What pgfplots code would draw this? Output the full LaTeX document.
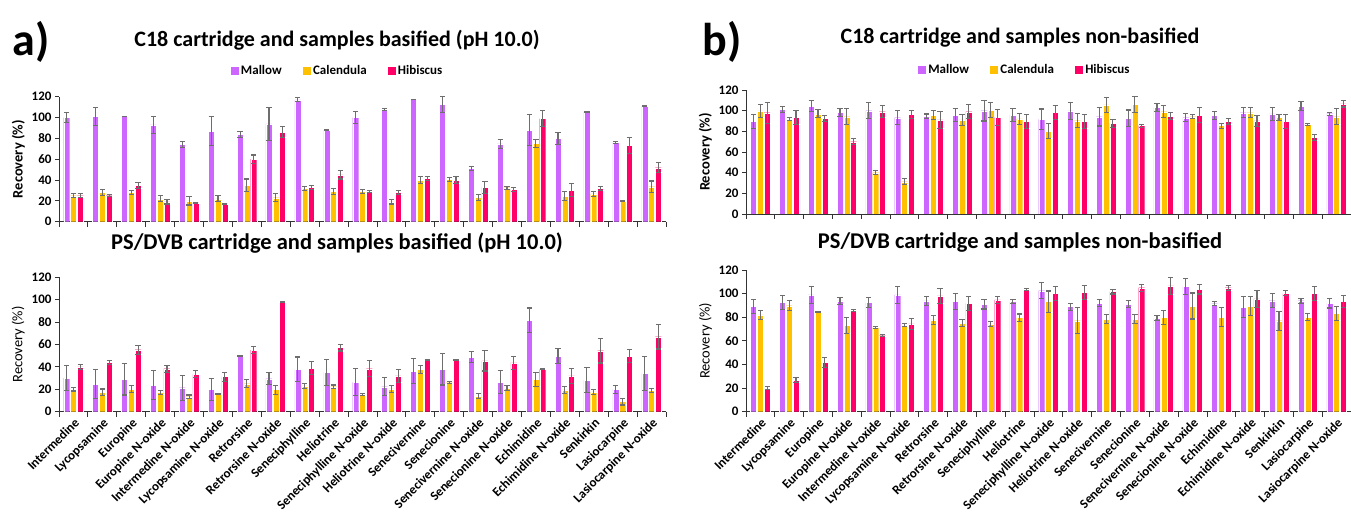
\documentclass[border=0pt]{standalone}
\usepackage{fontspec}
\setmainfont{Carlito}
\usepackage{pgfplots}
\usepackage{pgfplotstable}
\pgfplotsset{compat=1.18}
\definecolor{mallow}{HTML}{CC66FF}
\definecolor{calend}{HTML}{FFC000}
\definecolor{hibis}{HTML}{FF0066}
\definecolor{errgray}{HTML}{6E6E6E}

% columns: category, Mallow, err, Calendula, err, Hibiscus, err
\pgfplotstableread{
x M Me C Ce H He
1 100 5 25 2 25 2
2 101 9 28 3 25 1
3 101 0.4 28 2 35 3
4 93 8 22 3 19 2
5 74 3 20 4 18 0.5
6 87 14 22 3 17 0.5
7 84 3 35 6 60 4
8 94 16 23 4 86 5
9 117 2 32 2 33 2
10 88 0.4 29 3 45 4
11 100 6 29 2 29 1
12 108 1 19 2 28 2
13 117.4 0.3 40 3 41.6 2
14 112.6 8 40.6 2 40 3
15 51 2 23.4 3 33 6
16 74.6 4.5 32.6 1.5 31 2
17 88 15 75 4 99 7.5
18 80 6 24.6 4.5 30.4 6
19 105.6 0.3 26.6 2 32 2
20 76 1 19.5 0.5 73.3 7.5
21 111 0.3 33.6 5.5 51.8 5
}\tAa
\pgfplotstableread{
x M Me C Ce H He
1 30 11 20 1.5 40 2
2 24.7 13 17.3 3 44 1.5
3 28.9 14 20 3 55.4 4
4 23.8 13 17.3 2 38.4 3
5 21.4 11 13.4 1.5 33.4 3
6 20 10 16 0.5 31.3 4
7 50 0.3 25 3.5 55 3
8 29.5 5.5 19.7 4 97.7 0.3
9 37.8 11 23 2.5 39 6
10 35 12 22.3 1.5 57.2 3
11 26.2 12 15.5 1 38.4 7
12 22.3 8 20.3 3 31.9 6
13 36.3 11 37.8 3.5 46.5 0.3
14 37.8 14 25.9 1 46.5 0.3
15 48.8 5 14 2 45.3 9
16 26.5 10 21.1 2 43.5 6
17 81.6 11 28.9 6 37.8 0.3
18 49.7 7 19.4 3 31.9 7
19 28.3 11 17.6 2 54.5 11
20 20 3.5 9 3 49.7 6
21 34.2 15 18.8 2 67 11
}\tAb
\pgfplotstableread{
x M Me C Ce H He
1 89.7 7 99.7 6 98 10
2 101 3 91.9 1.5 93.5 7
3 104.5 5 97 4 92.6 3
4 98.4 4 94.2 8 70 3
5 100 8 40 2 99 6
6 93.2 7 31.3 3 96.5 4
7 94.8 2 95.8 4 91 8
8 95.8 6 91 5 99 7
9 100 10 100.6 7 93.5 8
10 95.8 6 92 5 89.4 7
11 91.6 10 80.3 7 98.4 7
12 99.7 8 90.3 7 89.4 7
13 94.2 9 105.5 7 87.7 4
14 92.6 8 106 8 85.5 1.5
15 103.2 4 99 6 94.8 3
16 93.2 4 94.2 2 95.8 7
17 95.2 4 85.5 2.5 89.4 3
18 98 5 98 5 90 5
19 96.8 6 93.5 3 89.4 7
20 104.5 4 86.8 1 74.2 3
21 97.1 1.5 94.2 8 106.5 3
}\tBa
\pgfplotstableread{
x M Me C Ce H He
1 89 6 82 4 20 1
2 92.7 6 89.8 4 26.8 2
3 98.9 7 84.7 0.5 41.8 4
4 93.8 3 72.9 7 85.6 1
5 92.4 4 71.5 1 64.4 1
6 98.9 7 73.4 1 74.3 5
7 93.8 4 77.7 4 98 6
8 93.2 7 74.9 3 91.8 6
9 91 4 74.3 2 94.6 3
10 93.2 1.5 79.7 3 103.4 1
11 102.5 7 93.2 9 100.3 6
12 89 3 77.1 11 101.1 6
13 91.8 3 78.5 4 101.7 2
14 91.2 3 78.5 4 105 3
15 79.1 2 79.7 6 106.5 7
16 105.9 7 89.5 11 103.7 4
17 91.5 1.5 79.9 8 105 2
18 88.4 9 89.5 8 95.5 7
19 94 6 77.1 8 100.3 2
20 94 2 79.9 3 100.3 6
21 91.8 4 83.3 6 93.2 5
}\tBb

\pgfplotsset{
  ser/.style={fill=#1, draw=white, line width=0.3pt,
    error bars/.cd, y dir=both, y explicit,
    error bar style={errgray, line width=1.1pt},
    error mark options={rotate=90, errgray, mark size=2.6pt, line width=1.1pt}},
  recov/.style={
    scale only axis, ybar=0.8pt, bar width=6pt,
    xmin=0.5, xmax=21.5, ymin=0, ymax=120,
    ytick={0,20,...,120}, xtick={1,...,21},
    minor xtick={0.5,1.5,...,21.5},
    axis x line*=bottom, axis y line*=left,
    axis line style={-, black!80, line width=0.9pt},
    tick align=outside, major x tick style={draw=none},
    major tick length=4pt, minor tick length=5pt,
    every tick/.style={black!80, line width=0.9pt},
    /pgf/number format/assume math mode=true,
    yticklabel style={font=\bfseries\fontsize{13}{13}\selectfont},
    ylabel={Recovery (\%)},
    ylabel style={font=\fontsize{14.5}{14.5}\selectfont},
    legend image code/.code={\fill[##1] (0pt,-4.5pt) rectangle (9pt,4.5pt);},
    legend style={draw=none, fill=none, font=\bfseries\fontsize{13}{13}\selectfont,
      legend columns=3, /tikz/every even column/.append style={column sep=18pt}},
  },
  notext/.style={xticklabels={}},
  withtext/.style={
    xticklabels={Intermedine, Lycopsamine, Europine, Europine N-oxide,
      Intermedine N-oxide, Lycopsamine N-oxide, Retrorsine, Retrorsine N-oxide,
      Seneciphylline, Heliotrine, Seneciphylline N-oxide, Heliotrine N-oxide,
      Senecivernine, Senecionine, Senecivernine N-oxide, Senecionine N-oxide,
      Echimidine, Echimidine N-oxide, Senkirkin, Lasiocarpine, Lasiocarpine N-oxide},
    xticklabel style={rotate=45, anchor=north east, inner sep=1pt,
      font=\bfseries\fontsize{13}{13}\selectfont}},
}

\begin{document}
\begin{tikzpicture}
\path[use as bounding box] (0pt,0pt) rectangle (1351pt,516pt);

% a) top
\begin{axis}[recov, notext, at={(59pt,294.3pt)}, anchor=south west,
  width=607pt, height=125pt,
  ylabel style={font=\bfseries\fontsize{14.5}{14.5}\selectfont},
  legend style={at={(0.458,1)}, anchor=center, yshift=26pt}]
\addplot[ser=mallow] table[x=x,y=M,y error=Me]{\tAa};
\addplot[ser=calend] table[x=x,y=C,y error=Ce]{\tAa};
\addplot[ser=hibis] table[x=x,y=H,y error=He]{\tAa};
\legend{Mallow, Calendula, Hibiscus}
\end{axis}

% a) bottom
\begin{axis}[recov, withtext, at={(59pt,104.3pt)}, anchor=south west,
  width=607pt, height=134.4pt]
\addplot[ser=mallow] table[x=x,y=M,y error=Me]{\tAb};
\addplot[ser=calend] table[x=x,y=C,y error=Ce]{\tAb};
\addplot[ser=hibis] table[x=x,y=H,y error=He]{\tAb};
\end{axis}

% b) top
\begin{axis}[recov, notext, at={(746pt,302pt)}, anchor=south west,
  width=605pt, height=124pt,
  ylabel style={font=\bfseries\fontsize{14.5}{14.5}\selectfont},
  legend style={at={(0.46,1)}, anchor=center, yshift=20pt}]
\addplot[ser=mallow] table[x=x,y=M,y error=Me]{\tBa};
\addplot[ser=calend] table[x=x,y=C,y error=Ce]{\tBa};
\addplot[ser=hibis] table[x=x,y=H,y error=He]{\tBa};
\legend{Mallow, Calendula, Hibiscus}
\end{axis}

% b) bottom
\begin{axis}[recov, withtext, at={(746pt,104.3pt)}, anchor=south west,
  width=605pt, height=141.7pt]
\addplot[ser=mallow] table[x=x,y=M,y error=Me]{\tBb};
\addplot[ser=calend] table[x=x,y=C,y error=Ce]{\tBb};
\addplot[ser=hibis] table[x=x,y=H,y error=He]{\tBb};
\end{axis}

\node[font=\bfseries\fontsize{46}{46}\selectfont] at (31pt,474pt) {a)};
\node[font=\bfseries\fontsize{46}{46}\selectfont] at (722pt,474pt) {b)};
\node[font=\bfseries\fontsize{22}{22}\selectfont] at (337pt,476pt) {C18 cartridge and samples basified (pH 10.0)};
\node[font=\bfseries\fontsize{22.5}{22.5}\selectfont] at (337pt,273pt) {PS/DVB cartridge and samples basified (pH 10.0)};
\node[font=\bfseries\fontsize{22}{22}\selectfont] at (1020pt,478pt) {C18 cartridge and samples non-basified};
\node[font=\bfseries\fontsize{22.5}{22.5}\selectfont] at (1020pt,273pt) {PS/DVB cartridge and samples non-basified};
\end{tikzpicture}
\end{document}
